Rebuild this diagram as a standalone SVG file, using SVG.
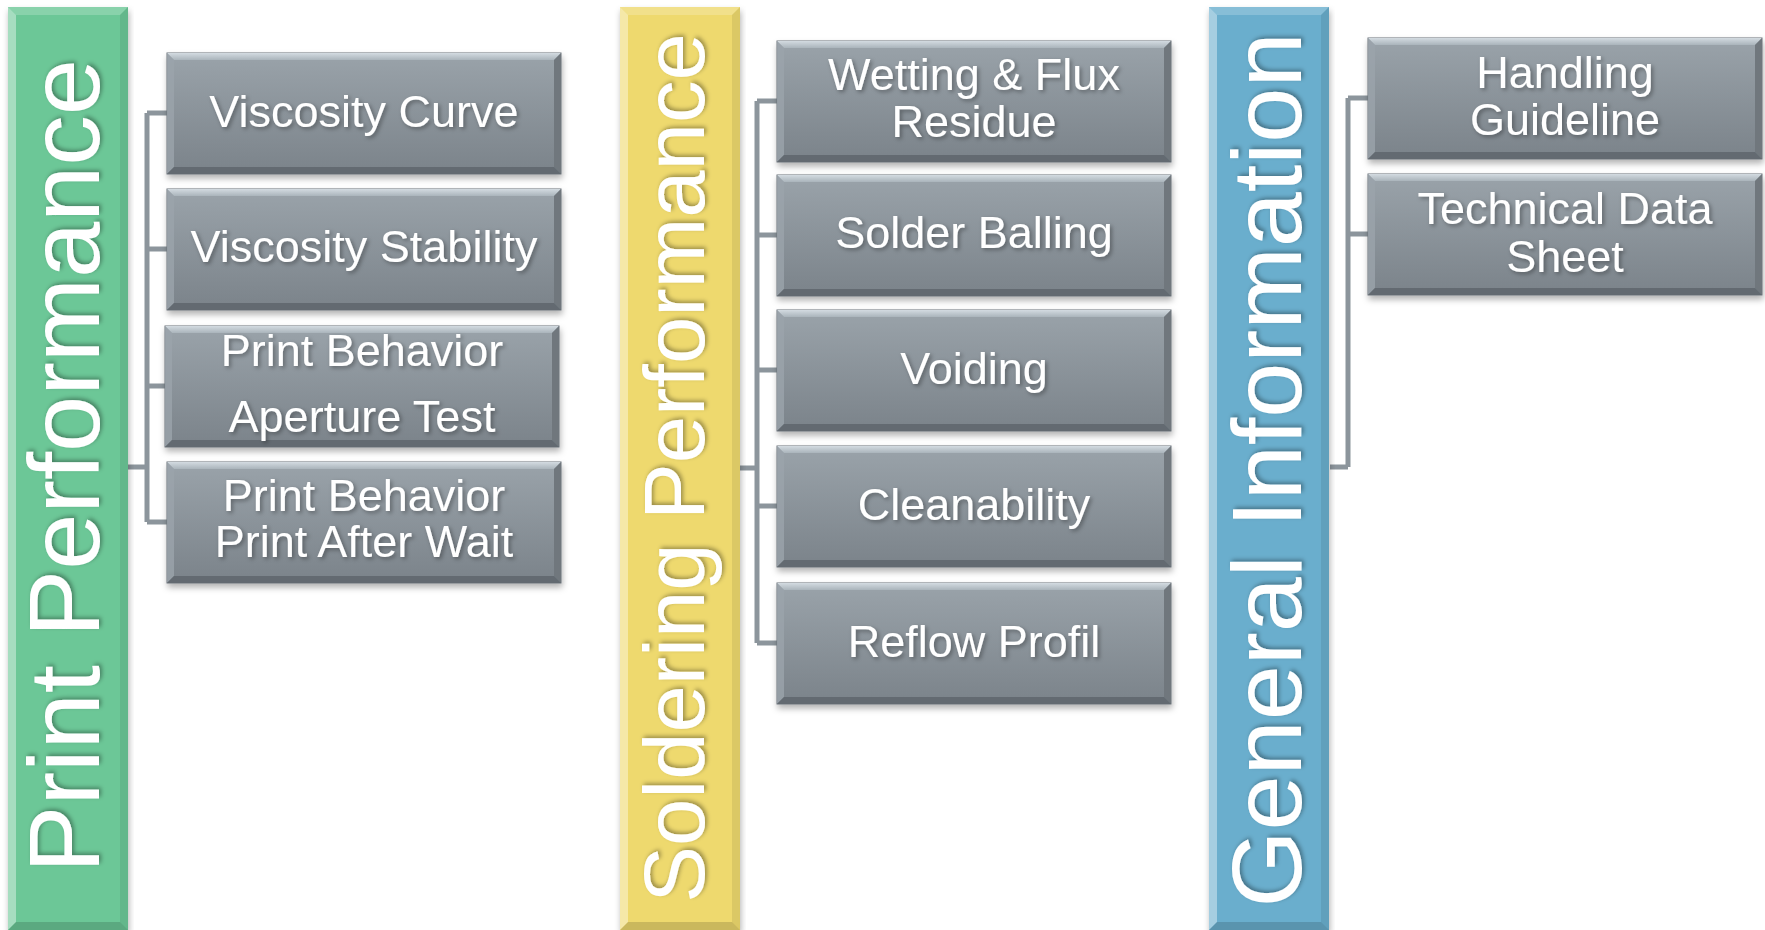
<svg xmlns="http://www.w3.org/2000/svg" xmlns:xlink="http://www.w3.org/1999/xlink" width="1765" height="930" viewBox="0 0 1765 930">
  <style>
    .lbl { font-family: "Liberation Sans", Arial, sans-serif; font-size: 45px; fill: #ffffff; text-anchor: middle; filter: url(#txtShadow); }
    .head { font-family: "Liberation Sans", Arial, sans-serif; fill: #ffffff; text-anchor: middle; filter: url(#txtShadow); }
    .conn { fill: none; stroke: #8c959c; stroke-width: 5; stroke-linejoin: miter; }
  </style>
  <defs>
    <linearGradient id="gBox" x1="0" y1="0" x2="0" y2="1">
      <stop offset="0" stop-color="#9aa3aa"/>
      <stop offset="1" stop-color="#7b838a"/>
    </linearGradient>
    <linearGradient id="gTopBevel" x1="0" y1="0" x2="0" y2="1">
      <stop offset="0" stop-color="#d3dbe1"/>
      <stop offset="1" stop-color="#aab4bb"/>
    </linearGradient>
    <filter id="boxShadow" x="-5%" y="-10%" width="110%" height="125%">
      <feDropShadow dx="1" dy="4" stdDeviation="3" flood-color="#000" flood-opacity="0.3"/>
    </filter>
    <filter id="txtShadow" x="-10%" y="-20%" width="120%" height="150%">
      <feDropShadow dx="2" dy="2" stdDeviation="2" flood-color="#000" flood-opacity="0.35"/>
    </filter>
    <!-- grey child box, 394 x 121 -->
    <g id="box">
      <rect x="0" y="0" width="394" height="121" fill="url(#gBox)" stroke="#6a7278" stroke-width="1"/>
      <polygon points="0,0 394,0 387,7 7,7" fill="url(#gTopBevel)"/>
      <polygon points="0,0 7,7 7,114 0,121" fill="#9ba4ab" opacity="0.8"/>
      <polygon points="394,0 394,121 387,114 387,7" fill="#6f777d"/>
      <polygon points="0,121 394,121 387,114 7,114" fill="#636b71"/>
    </g>
    <!-- bevel overlay for the coloured category bars, 120 x 923 -->
    <g id="barBevel">
      <polygon points="0,0 8,8 8,915 0,923" fill="#ffffff" opacity="0.4"/>
      <polygon points="0,0 120,0 112,8 8,8" fill="#ffffff" opacity="0.2"/>
      <polygon points="120,0 120,923 112,915 112,8" fill="#000000" opacity="0.08"/>
      <polygon points="0,923 120,923 112,915 8,915" fill="#000000" opacity="0.15"/>
    </g>
  </defs>

  <rect width="1765" height="930" fill="#ffffff"/>

  <!-- connectors -->
  <g id="connectors">
    <path class="conn" d="M128,467 H147 M147,113 V522 M147,113 H167 M147,249 H167 M147,386 H165 M147,522 H167"/>
    <path class="conn" d="M740,468 H757 M757,101 V643 M757,101 H777 M757,235 H777 M757,370 H777 M757,506 H777 M757,643 H777"/>
    <path class="conn" d="M1330,467 H1348 M1348,98 V467 M1348,98 H1368 M1348,234 H1368"/>
  </g>

  <!-- category bars -->
  <g id="print-performance">
    <rect x="8" y="7" width="120" height="923" fill="#6cc797" filter="url(#boxShadow)"/>
    <use xlink:href="#barBevel" x="8" y="7"/>
    <text class="head" font-size="101" transform="translate(99,466) rotate(-90)">Print Performance</text>
  </g>
  <g id="soldering-performance">
    <rect x="620" y="7" width="120" height="923" fill="#eed96e" filter="url(#boxShadow)"/>
    <use xlink:href="#barBevel" x="620" y="7"/>
    <text class="head" font-size="85" transform="translate(704,468) rotate(-90)">Soldering Performance</text>
  </g>
  <g id="general-information">
    <rect x="1209" y="7" width="120" height="923" fill="#6aaecd" filter="url(#boxShadow)"/>
    <use xlink:href="#barBevel" x="1209" y="7"/>
    <text class="head" font-size="99" transform="translate(1301,470) rotate(-90)">General Information</text>
  </g>

  <!-- print performance items -->
  <g id="viscosity-curve">
    <use xlink:href="#box" x="167" y="53" filter="url(#boxShadow)"/>
    <text class="lbl" x="364" y="127">Viscosity Curve</text>
  </g>
  <g id="viscosity-stability">
    <use xlink:href="#box" x="167" y="189" filter="url(#boxShadow)"/>
    <text class="lbl" x="364" y="262">Viscosity Stability</text>
  </g>
  <g id="aperture-test">
    <use xlink:href="#box" x="165" y="326" filter="url(#boxShadow)"/>
    <text class="lbl" x="362" y="366">Print Behavior</text>
    <text class="lbl" x="362" y="432">Aperture Test</text>
  </g>
  <g id="print-after-wait">
    <use xlink:href="#box" x="167" y="462" filter="url(#boxShadow)"/>
    <text class="lbl" x="364" y="511">Print Behavior</text>
    <text class="lbl" x="364" y="557">Print After Wait</text>
  </g>

  <!-- soldering performance items -->
  <g id="wetting-flux">
    <use xlink:href="#box" x="777" y="41" filter="url(#boxShadow)"/>
    <text class="lbl" x="974" y="90">Wetting &amp; Flux</text>
    <text class="lbl" x="974" y="137">Residue</text>
  </g>
  <g id="solder-balling">
    <use xlink:href="#box" x="777" y="175" filter="url(#boxShadow)"/>
    <text class="lbl" x="974" y="248">Solder Balling</text>
  </g>
  <g id="voiding">
    <use xlink:href="#box" x="777" y="310" filter="url(#boxShadow)"/>
    <text class="lbl" x="974" y="384">Voiding</text>
  </g>
  <g id="cleanability">
    <use xlink:href="#box" x="777" y="446" filter="url(#boxShadow)"/>
    <text class="lbl" x="974" y="520">Cleanability</text>
  </g>
  <g id="reflow-profil">
    <use xlink:href="#box" x="777" y="583" filter="url(#boxShadow)"/>
    <text class="lbl" x="974" y="657">Reflow Profil</text>
  </g>

  <!-- general information items -->
  <g id="handling-guideline">
    <use xlink:href="#box" x="1368" y="38" filter="url(#boxShadow)"/>
    <text class="lbl" x="1565" y="88">Handling</text>
    <text class="lbl" x="1565" y="135">Guideline</text>
  </g>
  <g id="technical-data-sheet">
    <use xlink:href="#box" x="1368" y="174" filter="url(#boxShadow)"/>
    <text class="lbl" x="1565" y="224">Technical Data</text>
    <text class="lbl" x="1565" y="272">Sheet</text>
  </g>
</svg>
